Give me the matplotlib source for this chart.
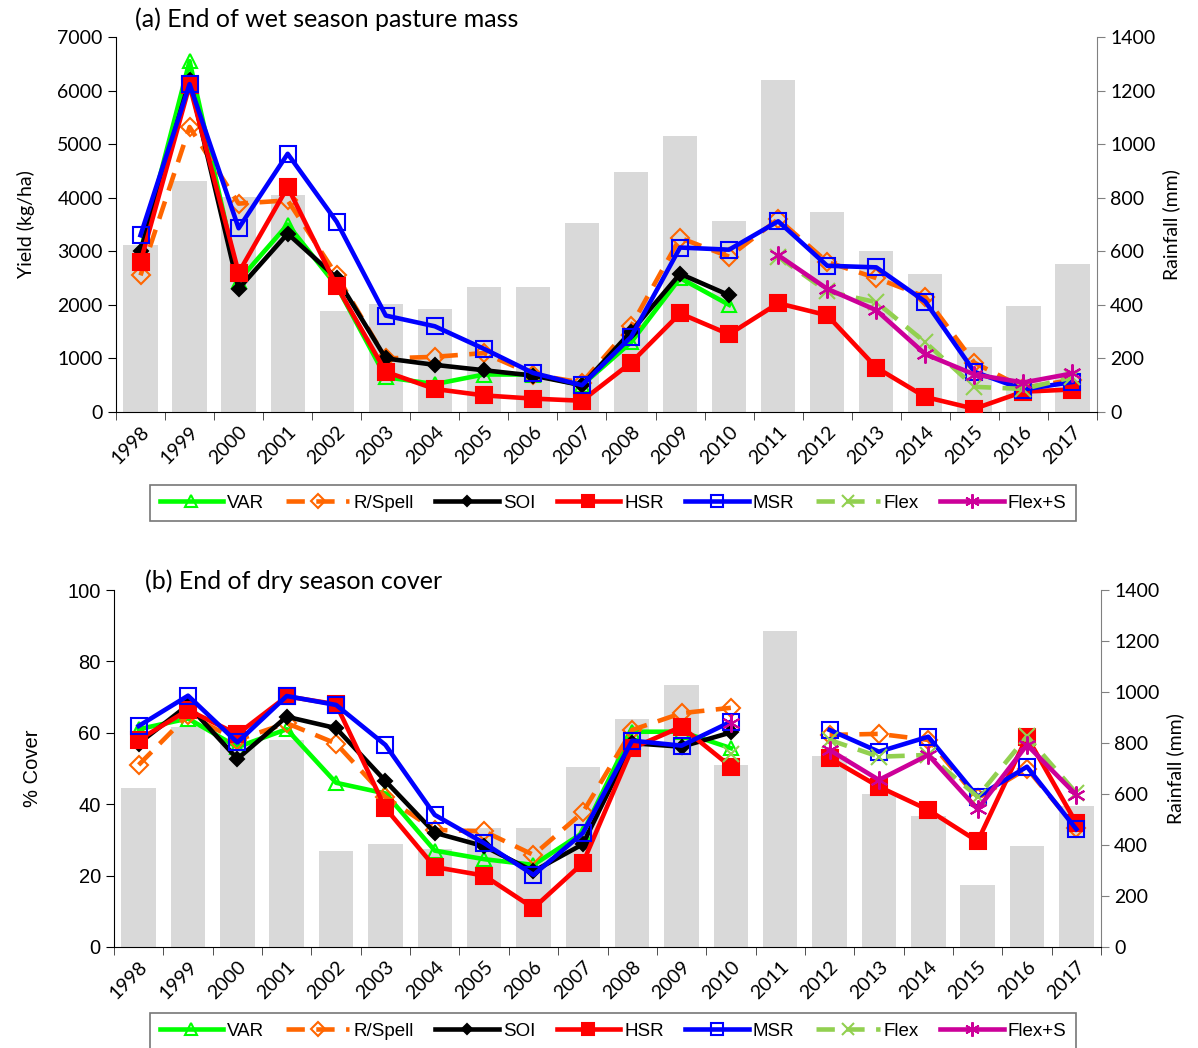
import numpy as np
import matplotlib.pyplot as plt
from matplotlib.lines import Line2D

years = [str(y) for y in range(1998, 2018)]
nan = np.nan

# rainfall (mm), same bars in both panels
rain = [625, 861, 803, 810, 377, 405, 386, 468, 468, 707,
        895, 1029, 712, 1238, 748, 600, 514, 244, 395, 551]

# (a) end of wet season pasture mass (kg/ha)
a_var = [3000, 6550, 2450, 3500, 2350, 650, 520, 700, 700, 500,
         1300, 2500, 2000, nan, nan, nan, nan, nan, nan, nan]
a_rspell = [2550, 5320, 3890, 3950, 2550, 1000, 1030, 1100, 700, 550,
            1600, 3250, 2900, 3600, 2800, 2500, 2150, 920, 450, 600]
a_soi = [3000, 6200, 2300, 3330, 2500, 1000, 880, 780, 680, 500,
         1500, 2580, 2180, nan, nan, nan, nan, nan, nan, nan]
a_hsr = [2800, 6100, 2600, 4200, 2350, 750, 430, 310, 250, 210,
         920, 1840, 1450, 2030, 1805, 830, 280, 60, 380, 420]
a_msr = [3300, 6120, 3430, 4820, 3550, 1800, 1600, 1180, 730, 500,
         1400, 3070, 3030, 3560, 2730, 2700, 2060, 750, 420, 560]
a_flex = [nan] * 13 + [2900, 2250, 2050, 1300, 470, 430, 650]
a_flexs = [nan] * 13 + [2925, 2300, 1900, 1080, 700, 550, 720]

# (b) end of dry season cover (%)
b_var = [61, 64, 56, 61, 46, 43, 27, 24.6, 23, 32,
         60.3, 60.3, 55.7, nan, nan, nan, nan, nan, nan, nan]
b_rspell = [51, 65, 58, 62.7, 57, 42, 32.8, 32.4, 25.8, 37.7,
            60.8, 65.5, 67, nan, 59.4, 59.7, 58, 41.7, 50, 33.3]
b_soi = [57, 67.8, 52.7, 64.5, 61.3, 46.5, 32, 28.2, 21.2, 28.8,
         57.1, 56.1, 60.1, nan, nan, nan, nan, nan, nan, nan]
b_hsr = [58, 66.4, 59.6, 70.2, 68, 38.9, 22.4, 20, 10.9, 23.5,
         55.7, 61.7, 50.5, nan, 52.9, 44.9, 38.4, 29.6, 58.9, 34.7]
b_msr = [61.9, 70.4, 57.3, 70.3, 67.8, 56.6, 37, 29.1, 20.2, 31.9,
         57.8, 56.4, 63.1, nan, 60.8, 54.7, 58.9, 42.1, 50.5, 33]
b_flex = [nan] * 12 + [54, nan, 58, 53.3, 53.8, 42.1, 59, 43.1]
b_flexs = [nan] * 12 + [62.7, nan, 55.2, 46.8, 53.8, 38.6, 56.6, 42.6]

names = ['VAR', 'R/Spell', 'SOI', 'HSR', 'MSR', 'Flex', 'Flex+S']
colors = ['#00FF00', '#FF6600', '#000000', '#FF0000', '#0000FF', '#92D050', '#CC0099']
markers = ['^', 'D', 'D', 's', 's', 'x', (6, 2, 0)]
filled = [False, False, True, True, False, False, True]
msizes = [10, 9, 7, 11, 11, 11, 13]
dashes = [None, (4, 2.5), None, None, None, (4, 2.5), None]

calib = ['Lato', 'DejaVu Sans']
arial = ['Liberation Sans', 'DejaVu Sans']

fig = plt.figure(figsize=(11.98, 10.48), dpi=100)
x = np.arange(len(years))


def panel(rect, series, ymax, ystep, ylabel, title, title_x, title_y, tickfont, tsize, lpad, leg_y):
    ax = fig.add_axes(rect)
    ax2 = ax.twinx()
    ax2.bar(x, rain, width=0.7, color='#D9D9D9', zorder=1)
    ax2.set_ylim(0, 1400)
    ax2.set_yticks(np.arange(0, 1401, 200))
    ax2.set_ylabel('Rainfall (mm)', fontsize=14, family=calib, labelpad=5)
    for t in ax2.get_yticklabels():
        t.set_fontsize(14)
        t.set_family(calib)
    ax.set_zorder(ax2.get_zorder() + 1)
    ax.patch.set_visible(False)

    handles = []
    for vals, name, c, m, f, ms, d in zip(series, names, colors, markers, filled, msizes, dashes):
        kw = dict(color=c, lw=3.3, marker=m, ms=ms, zorder=3,
                  markerfacecolor=c if f else 'none', markeredgecolor=c,
                  markeredgewidth=1.5)
        if d is not None:
            kw['dashes'] = d
        ax.plot(x, vals, **kw)
        hk = dict(kw)
        hk['ms'] = ms * 0.8
        handles.append(Line2D([], [], **hk))

    ax.set_xlim(-0.5, len(years) - 0.5)
    ax.set_ylim(0, ymax)
    ax.set_yticks(np.arange(0, ymax + 1, ystep))
    ax.set_ylabel(ylabel, fontsize=tsize, family=tickfont, labelpad=lpad)
    for t in ax.get_yticklabels():
        t.set_fontsize(tsize)
        t.set_family(tickfont)
    ax.set_xticks(x)
    ax.set_xticklabels(years, rotation=45, ha='right', rotation_mode='anchor',
                       fontsize=14, family=calib)
    ax.tick_params(axis='x', length=0, pad=8)
    ax.set_xticks(np.arange(-0.5, len(years)), minor=True)
    ax.tick_params(axis='x', which='minor', length=6, direction='out', color='#333333')
    ax.tick_params(axis='y', length=6, direction='out')
    ax2.tick_params(axis='y', length=6, direction='out', color='#808080')
    for a in (ax, ax2):
        a.spines['top'].set_visible(False)
    ax.spines['right'].set_visible(False)
    ax2.spines['left'].set_visible(False)
    ax2.spines['bottom'].set_visible(False)
    ax2.spines['right'].set_color('#808080')

    fig.text(title_x / 1198, title_y, title, fontsize=18, family=calib, va='center')

    leg = fig.legend(handles, names, loc='center', bbox_to_anchor=(613 / 1198, leg_y),
                     ncol=7, prop={'family': arial, 'size': 13.5},
                     handlelength=3.4, handletextpad=0.2, columnspacing=1.15,
                     frameon=True, fancybox=False, edgecolor='#555555',
                     borderpad=0.5)
    leg.get_frame().set_linewidth(1.2)
    return ax


panel([116 / 1198, 1 - 412 / 1048, 981 / 1198, 375 / 1048],
      [a_var, a_rspell, a_soi, a_hsr, a_msr, a_flex, a_flexs],
      7000, 1000, 'Yield (kg/ha)', '(a) End of wet season pasture mass',
      135, 1 - 19 / 1048, calib, 14, 16, 1 - 503 / 1048)

panel([114 / 1198, 1 - 947 / 1048, 987 / 1198, 357 / 1048],
      [b_var, b_rspell, b_soi, b_hsr, b_msr, b_flex, b_flexs],
      100, 20, '% Cover', '(b) End of dry season cover',
      145, 1 - 581 / 1048, arial, 14.5, 18, 1 - 1031 / 1048)

fig.savefig('out.png', dpi=100)
